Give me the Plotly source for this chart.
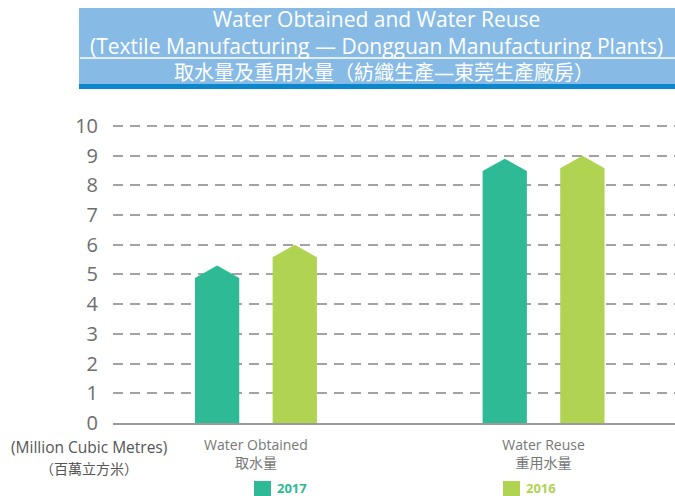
import plotly.graph_objects as go

# data (million cubic metres)
categories = ["Water Obtained<br>取水量", "Water Reuse<br>重用水量"]
years = ["2017", "2016"]
values_2017 = [5.3, 8.9]
values_2016 = [6.0, 9.0]
y_ticks = list(range(0, 11))

COLORS = {"2017": "#2dba94", "2016": "#b0d352"}
FONT = "Open Sans, Noto Sans CJK TC, sans-serif"

W, H = 675, 496
L, R, T, B = 113, 0, 123, H - 423

# bar geometry in axis units
offset = 0.135
half_w = 0.077
cap = 0.42


def px_x(px):
    # pixel -> paper x
    return (px - L) / (W - L - R)


def px_y(py):
    # pixel -> paper y
    return (H - B - py) / (H - T - B)


def house(cx, v):
    xs = [cx - half_w, cx - half_w, cx, cx + half_w, cx + half_w, cx - half_w]
    ys = [0, v - cap, v, v - cap, 0, 0]
    return xs, ys


fig = go.Figure()

for year, vals, sign in [("2017", values_2017, -1), ("2016", values_2016, 1)]:
    for i, v in enumerate(vals):
        xs, ys = house(i + sign * offset, v)
        fig.add_trace(go.Scatter(
            x=xs, y=ys, mode='lines', fill='toself',
            fillcolor=COLORS[year], line=dict(width=0),
            showlegend=False, name=year,
            hovertemplate=f'{year}: {v}<extra></extra>'
        ))

shapes = [
    # title banner
    dict(type='rect', xref='paper', yref='paper',
         x0=px_x(79), x1=px_x(676), y0=px_y(84), y1=px_y(8),
         fillcolor='#87bbe6', line=dict(width=0), layer='above'),
    dict(type='rect', xref='paper', yref='paper',
         x0=px_x(79), x1=px_x(676), y0=px_y(89), y1=px_y(84),
         fillcolor='#0b87cd', line=dict(width=0), layer='above'),
    dict(type='line', xref='paper', yref='paper',
         x0=px_x(80), x1=px_x(676), y0=px_y(58), y1=px_y(58),
         line=dict(color='white', width=1.5), layer='above'),
]

annotations = [
    dict(text="Water Obtained and Water Reuse<br>"
              "(Textile Manufacturing — Dongguan Manufacturing Plants)",
         x=px_x(376), y=px_y(32),
         font=dict(family=FONT, size=21, color='white')),
    dict(text="取水量及重用水量（紡織生產—東莞生產廠房）", x=px_x(384), y=px_y(72),
         font=dict(family=FONT, size=20, color='white')),
    dict(text="(Million Cubic Metres)", x=px_x(89), y=px_y(447),
         font=dict(family=FONT, size=15.5, color='#555555')),
    dict(text="（百萬立方米）", x=px_x(89), y=px_y(468),
         font=dict(family=FONT, size=14, color='#555555')),
]

# legend drawn by hand
for year, sx in [("2017", 254), ("2016", 503)]:
    shapes.append(dict(type='rect', xref='paper', yref='paper',
                       x0=px_x(sx), x1=px_x(sx + 17), y0=px_y(497), y1=px_y(481),
                       fillcolor=COLORS[year], line=dict(width=0)))
    annotations.append(dict(text=f"<b>{year}</b>", x=px_x(sx + 21), y=px_y(488),
                            xanchor='left',
                            font=dict(family=FONT, size=13, color=COLORS[year])))

for a in annotations:
    a.setdefault('xanchor', 'center')
    a.update(xref='paper', yref='paper', showarrow=False, yanchor='middle')

fig.update_layout(
    width=W, height=H,
    margin=dict(l=L, r=R, t=T, b=B),
    paper_bgcolor='white', plot_bgcolor='white',
    showlegend=False,
    shapes=shapes,
    annotations=annotations,
    xaxis=dict(
        range=[-0.497, 1.457],
        tickvals=[0, 1], ticktext=categories,
        tickfont=dict(family=FONT, size=14, color='#777777'),
        showgrid=False, zeroline=False,
        showline=True, linecolor='#9a9a9a', linewidth=2,
        ticks='outside', ticklen=8, tickcolor='rgba(0,0,0,0)',
        fixedrange=True
    ),
    yaxis=dict(
        range=[0, 10.1], tickvals=y_ticks,
        tickfont=dict(family=FONT, size=20, color='#6d6e71'),
        showgrid=True, gridcolor='#a3a3a3', gridwidth=1.5,
        griddash='10px,7px',
        zeroline=False, showline=False,
        ticks='outside', ticklen=10, tickcolor='rgba(0,0,0,0)',
        fixedrange=True
    ),
    font=dict(family=FONT)
)

# drop the default page margin so the figure fills the window exactly
fig.write_html("out.html", config=dict(displayModeBar=False),
               post_script="document.body.style.margin='0';document.body.style.overflow='hidden';")
